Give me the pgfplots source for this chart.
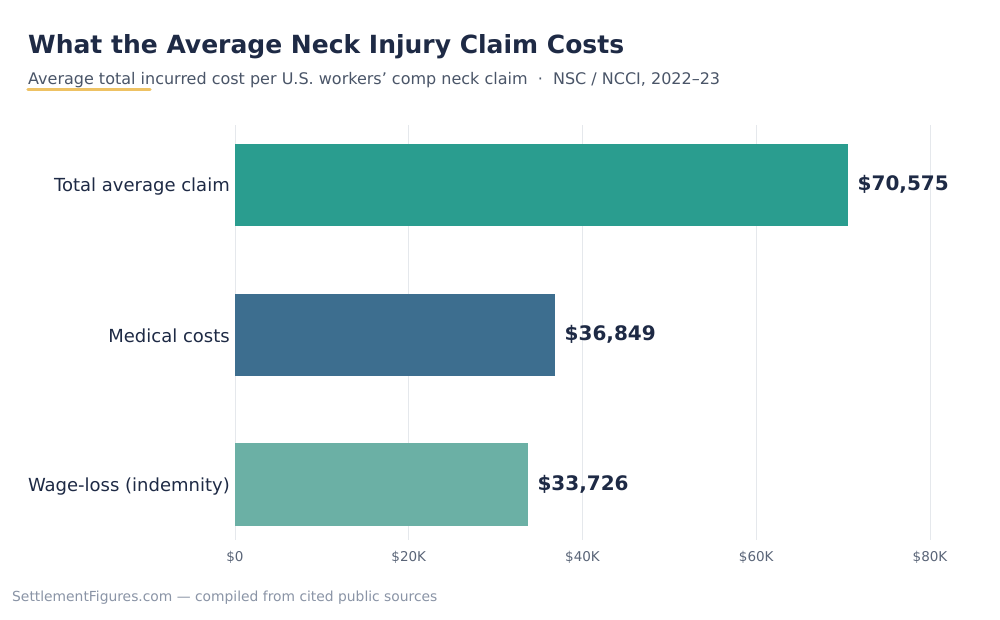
\documentclass[border=0pt]{standalone}
\usepackage{pgfplots}
\pgfplotsset{compat=1.18}
\usepackage{fontspec}
\setmainfont{DejaVu Sans}
\definecolor{titlec}{HTML}{1E2A45}
\definecolor{subc}{HTML}{4A5568}
\definecolor{accent}{HTML}{EEC264}
\definecolor{gridc}{HTML}{E5E8EC}
\definecolor{tickc}{HTML}{5A6578}
\definecolor{footc}{HTML}{8A94A6}
\definecolor{barA}{HTML}{2A9D8F}
\definecolor{barB}{HTML}{3D6E8F}
\definecolor{barC}{HTML}{6BB0A5}
\begin{document}
\begin{tikzpicture}[x=1pt,y=1pt]
\fill[white] (0,0) rectangle (1000,-620);
\path[use as bounding box] (0,0) rectangle (1000,-620);
\node[anchor=base west, inner sep=0, text=titlec, font=\bfseries\fontsize{25}{30}\selectfont] at (28,-54) {What the Average Neck Injury Claim Costs};
\node[anchor=base west, inner sep=0, text=subc, font=\fontsize{16}{19}\selectfont] at (28,-85) {Average total incurred cost per U.S. workers’ comp neck claim~~·~~NSC / NCCI, 2022–23};
\draw[accent, line width=3.2, line cap=round] (28,-89.5) -- (150,-89.5);
\node[anchor=base west, inner sep=0, text=footc, font=\fontsize{13.85}{16}\selectfont] at (12,-601.5) {SettlementFigures.com — compiled from cited public sources};
\begin{axis}[
  at={(235pt,-540pt)}, anchor=south west,
  scale only axis, width=695pt, height=415pt,
  xmin=0, xmax=80000, ymin=-0.4, ymax=2.37,
  y dir=reverse,
  axis line style={draw=none},
  xmajorgrids, grid style={gridc, line width=0.8pt},
  major tick length=0pt,
  scaled x ticks=false,
  xtick={0,20000,40000,60000,80000},
  xticklabels={\$0,\$20K,\$40K,\$60K,\$80K},
  xticklabel style={text=tickc, font=\fontsize{13.5}{15}\selectfont, yshift=-8pt},
  ytick={0,1,2},
  yticklabels={Total average claim,Medical costs,Wage-loss (indemnity)},
  yticklabel style={text=titlec, font=\fontsize{18}{21}\selectfont, inner sep=0pt, xshift=-5pt, yshift=-1.5pt},
  xbar, bar width=0.55, bar shift=0pt,
  point meta=explicit symbolic,
  nodes near coords,
  every node near coord/.append style={text=titlec, font=\bfseries\fontsize{20}{23}\selectfont, anchor=west, xshift=6pt, yshift=0.5pt},
  clip=false,
]
\addplot[draw=none, fill=barA] coordinates {(70575,0) [\$70,575]};
\addplot[draw=none, fill=barB] coordinates {(36849,1) [\$36,849]};
\addplot[draw=none, fill=barC] coordinates {(33726,2) [\$33,726]};
\end{axis}
\end{tikzpicture}
\end{document}
